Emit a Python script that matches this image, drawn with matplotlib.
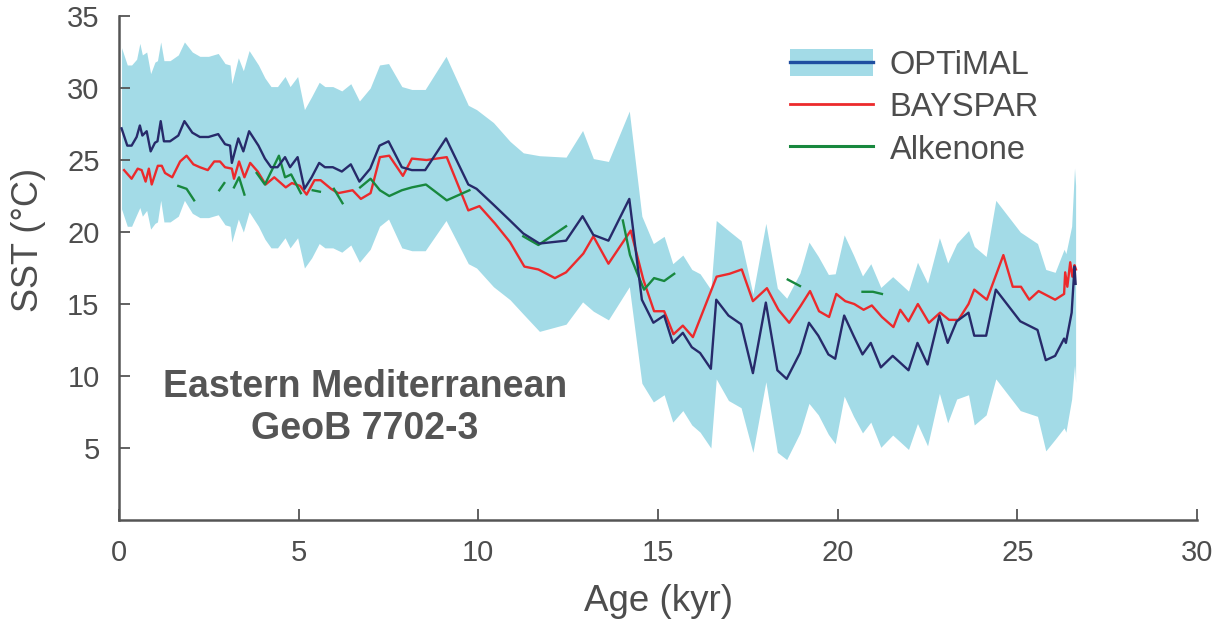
import numpy as np
import matplotlib
matplotlib.use("Agg")
import matplotlib.pyplot as plt
from matplotlib.patches import Patch
from matplotlib.lines import Line2D

plt.rcParams["font.family"] = ["Liberation Sans", "DejaVu Sans"]

# OPTiMAL SST reconstruction (age in kyr, SST in degC) and its 1-sigma error
optimal_age = [0.07, 0.23, 0.35, 0.49, 0.58, 0.65, 0.77, 0.88, 1.00, 1.07, 1.16, 1.25,
               1.42, 1.65, 1.82, 2.04, 2.25, 2.49, 2.76, 2.95, 3.09, 3.14, 3.32, 3.46,
               3.62, 3.88, 4.06, 4.23, 4.41, 4.62, 4.76, 4.97, 5.16, 5.36, 5.57, 5.73,
               5.95, 6.20, 6.45, 6.69, 6.99, 7.25, 7.50, 7.87, 8.15, 8.52, 9.10, 9.72,
               9.95, 10.42, 10.88, 11.25, 11.70, 12.44, 12.90, 13.20, 13.62, 14.20, 14.55,
               14.87, 15.17, 15.41, 15.69, 15.94, 16.17, 16.47, 16.62, 16.96, 17.31, 17.64,
               18.00, 18.32, 18.58, 18.95, 19.20, 19.46, 19.74, 19.93, 20.18, 20.44, 20.69,
               20.92, 21.20, 21.53, 21.97, 22.22, 22.50, 22.83, 23.06, 23.31, 23.64, 23.80,
               24.13, 24.40, 25.08, 25.56, 25.79, 26.05, 26.30, 26.35, 26.51, 26.59, 26.62]
optimal_sst = [27.2, 26.0, 26.0, 26.6, 27.4, 26.7, 27.0, 25.6, 26.2, 26.3, 27.7, 26.3,
               26.3, 26.7, 27.7, 26.9, 26.6, 26.6, 26.8, 26.1, 26.0, 24.8, 26.5, 25.6,
               27.0, 26.0, 25.1, 24.5, 24.5, 25.2, 24.5, 25.2, 23.0, 23.8, 24.8, 24.5,
               24.5, 24.2, 24.7, 23.5, 24.4, 26.0, 26.3, 24.5, 24.3, 24.3, 26.5, 23.3,
               23.0, 21.9, 20.8, 19.9, 19.2, 19.4, 21.1, 19.8, 19.4, 22.3, 15.3,
               13.7, 14.2, 12.3, 13.0, 12.0, 11.6, 10.5, 15.3, 14.2, 13.6, 10.2,
               15.1, 10.4, 9.8, 11.6, 13.7, 12.8, 11.5, 11.2, 14.2, 12.8, 11.5,
               12.3, 10.6, 11.4, 10.4, 12.3, 10.8, 14.2, 12.3, 13.8, 14.4, 12.8,
               12.8, 16.0, 13.8, 13.2, 11.1, 11.4, 12.6, 12.3, 14.4, 17.6, 16.4]
optimal_err = [5.6, 5.6, 5.6, 5.4, 5.7, 5.6, 5.5, 5.4, 5.6, 5.6, 5.5, 5.6,
               5.6, 5.6, 5.5, 5.6, 5.6, 5.6, 5.6, 5.6, 5.6, 5.5, 5.6, 5.6,
               5.6, 5.6, 5.6, 5.6, 5.6, 5.6, 5.6, 5.6, 5.5, 5.6, 5.6, 5.6,
               5.6, 5.6, 5.6, 5.6, 5.6, 5.6, 5.4, 5.6, 5.6, 5.6, 5.7, 5.5,
               5.5, 5.7, 5.5, 5.6, 6.1, 5.8, 5.95, 5.3, 5.5, 6.1, 5.8,
               5.5, 5.5, 5.5, 5.4, 5.4, 5.5, 5.5, 5.5, 5.9, 5.8, 5.5,
               5.5, 5.7, 5.6, 5.55, 5.6, 5.5, 5.55, 5.9, 5.6, 5.6, 5.45,
               5.5, 5.55, 5.5, 5.5, 5.6, 5.65, 5.4, 5.55, 5.4, 5.7, 6.2,
               5.5, 6.2, 6.2, 6.0, 6.3, 5.8, 6.2, 6.2, 6.0, 6.85, 6.85]

# BAYSPAR SST reconstruction
bayspar_age = [0.14, 0.35, 0.52, 0.63, 0.74, 0.83, 0.91, 1.08, 1.19, 1.28, 1.48, 1.70,
               1.88, 2.07, 2.25, 2.47, 2.65, 2.81, 2.95, 3.14, 3.20, 3.34, 3.49, 3.65,
               3.86, 4.08, 4.32, 4.64, 4.81, 5.04, 5.22, 5.44, 5.61, 5.90, 6.10, 6.50,
               6.73, 7.00, 7.26, 7.52, 7.90, 8.15, 8.56, 9.12, 9.72, 10.03, 10.46, 10.88,
               11.28, 11.67, 12.13, 12.44, 12.92, 13.20, 13.62, 14.24, 14.59, 14.89, 15.17,
               15.43, 15.69, 15.97, 16.63, 16.99, 17.33, 17.64, 18.03, 18.35, 18.65, 18.95,
               19.23, 19.48, 19.76, 19.96, 20.21, 20.46, 20.72, 20.95, 21.23, 21.55, 21.74,
               21.97, 22.23, 22.54, 22.85, 23.10, 23.36, 23.64, 23.80, 24.15, 24.61, 24.87,
               25.10, 25.33, 25.59, 26.05, 26.30, 26.33, 26.39, 26.47, 26.53, 26.59, 26.63]
bayspar_sst = [24.3, 23.7, 24.4, 24.3, 23.5, 24.4, 23.3, 24.6, 24.6, 24.1, 23.8, 24.9,
               25.3, 24.7, 24.5, 24.3, 24.9, 24.9, 24.5, 24.4, 23.7, 24.9, 23.8, 24.8,
               24.2, 23.3, 23.8, 23.1, 23.4, 23.2, 22.6, 23.6, 23.6, 23.0, 22.7, 22.9,
               22.3, 22.7, 25.2, 25.3, 23.9, 25.1, 25.0, 25.2, 21.5, 21.8, 20.6, 19.3,
               17.6, 17.4, 16.8, 17.2, 18.5, 19.7, 17.8, 20.1, 16.7, 14.5, 14.5,
               12.9, 13.5, 12.7, 16.9, 17.1, 17.4, 15.2, 16.1, 14.6, 13.7, 14.8,
               15.9, 14.5, 14.1, 15.7, 15.2, 15.0, 14.6, 14.9, 14.1, 13.4, 14.6,
               13.8, 15.0, 13.7, 14.4, 13.9, 13.9, 15.0, 16.0, 15.3, 18.4, 16.2,
               16.2, 15.3, 15.9, 15.3, 15.7, 17.2, 16.2, 17.9, 16.9, 17.7, 17.4]

# Alkenone SST; NaN marks gaps between sampled intervals
nan = np.nan
alkenone_age = [1.65, 1.88, 2.09, nan, 2.79, 2.93, nan, 3.20, 3.34, 3.49, nan,
                3.83, 4.06, 4.45, 4.62, 4.79, 5.06, nan, 5.39, 5.59, nan, 5.98, 6.22, nan,
                6.71, 7.00, 7.26, 7.52, 7.87, 8.15, 8.54, 9.12, 9.75, nan,
                11.25, 11.67, 12.44, nan,
                14.02, 14.22, 14.41, 14.61, 14.89, 15.17, 15.45, nan,
                18.61, 18.95, nan, 20.69, 20.98, 21.23]
alkenone_sst = [23.2, 23.0, 22.2, nan, 22.9, 23.4, nan, 23.1, 23.8, 22.6, nan,
                24.1, 23.3, 25.3, 23.8, 24.0, 22.7, nan, 22.9, 22.8, nan, 23.0, 22.0, nan,
                23.1, 23.7, 22.9, 22.5, 22.9, 23.1, 23.3, 22.2, 22.9, nan,
                19.7, 19.1, 20.4, nan,
                20.8, 18.4, 17.2, 16.0, 16.8, 16.6, 17.1, nan,
                16.7, 16.25, nan, 15.85, 15.85, 15.7]

x_ticks = [0, 5, 10, 15, 20, 25, 30]
y_ticks = [5, 10, 15, 20, 25, 30, 35]

TEXT = "#4d4d4d"
BAND = "#a3dbe7"
NAVY = "#272a6a"
LEGEND_BLUE = "#1f4ea0"
RED = "#ec2a2c"
GREEN = "#18883e"

fig = plt.figure(figsize=(12.27, 6.26), dpi=100)
ax = fig.add_axes([0.097, 0.1693, 0.8786, 0.8051])

opt_age = np.array(optimal_age)
opt_sst = np.array(optimal_sst)
opt_err = np.array(optimal_err)
ax.fill_between(opt_age, opt_sst - opt_err, opt_sst + opt_err,
                color=BAND, linewidth=0, zorder=1)
ax.plot(opt_age, opt_sst, color=NAVY, lw=1.7, zorder=3)
ax.plot(bayspar_age, bayspar_sst, color=RED, lw=1.7, zorder=2)
ax.plot(alkenone_age, alkenone_sst, color=GREEN, lw=1.7, zorder=2.5)

ax.set_xlim(0, 30)
ax.set_ylim(0, 35)
ax.set_xticks(x_ticks)
ax.set_yticks(y_ticks)
for s in ("top", "right"):
    ax.spines[s].set_visible(False)
for s in ("left", "bottom"):
    ax.spines[s].set_color("#555555")
    ax.spines[s].set_linewidth(1.8)
ax.tick_params(direction="in", length=8, width=1.3, color="#555555",
               labelsize=21, labelcolor=TEXT, pad=14)

ax.set_xlabel("Age (kyr)", fontsize=26.5, color=TEXT, labelpad=12)
ax.set_ylabel("SST (°C)", fontsize=26, color=TEXT)
ax.yaxis.set_label_coords(-0.068, 0.556)

ax.text(0.228, 0.222, "Eastern Mediterranean\nGeoB 7702-3", transform=ax.transAxes,
        ha="center", va="center", fontsize=27, fontweight="bold", color="#555555",
        linespacing=1.2)

handles = [(Patch(facecolor=BAND, edgecolor="none"),
            Line2D([], [], color=LEGEND_BLUE, lw=2.4)),
           Line2D([], [], color=RED, lw=2.0),
           Line2D([], [], color=GREEN, lw=2.2)]
leg = ax.legend(handles, ["OPTiMAL", "BAYSPAR", "Alkenone"],
                loc="upper left", bbox_to_anchor=(0.6224, 0.934),
                frameon=False, fontsize=23.5, handlelength=2.55, handleheight=0.9,
                handletextpad=0.5, labelspacing=0.32, borderpad=0, borderaxespad=0)
for t in leg.get_texts():
    t.set_color(TEXT)

fig.savefig("out.png", dpi=100)
